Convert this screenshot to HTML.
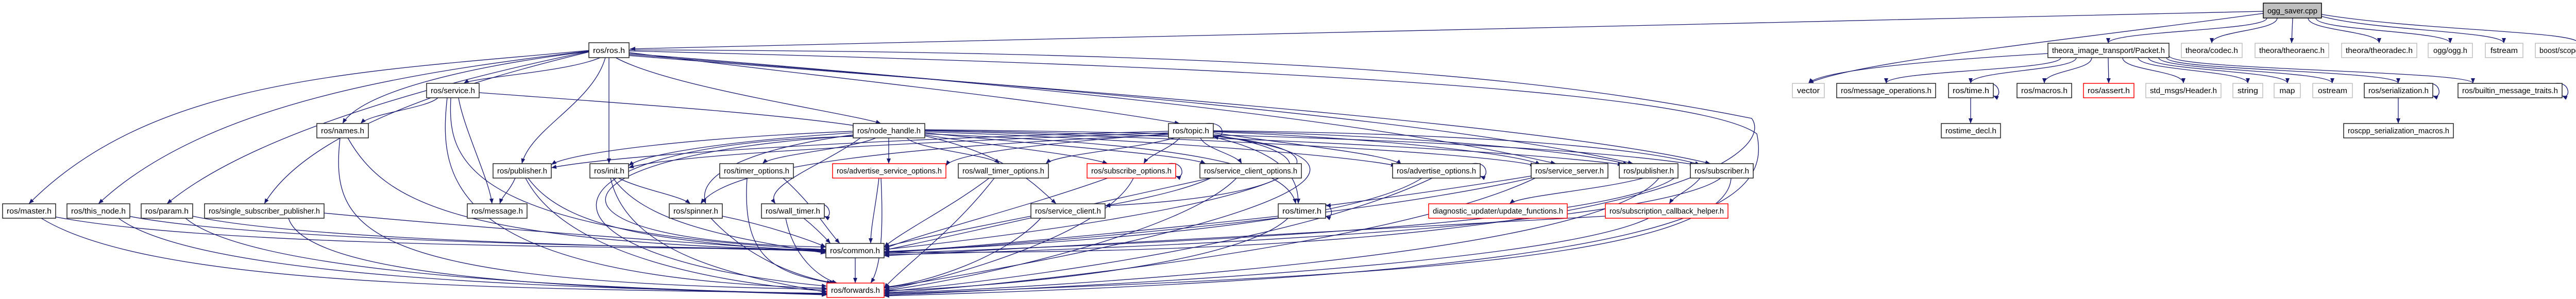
<!DOCTYPE html>
<html><head><meta charset="utf-8"><style>
html,body{margin:0;padding:0;background:#fff;width:5092px;height:581px;overflow:hidden}
svg{display:block}
text{font-family:"Liberation Sans",sans-serif;font-size:15px;fill:#000}
.e{fill:none;stroke:#191970;stroke-width:1.3;marker-end:url(#a)}
.n{fill:#fff;stroke:#222;stroke-width:1.5}
.r{fill:#fff;stroke:#ff0000;stroke-width:1.5}
.g{fill:#fff;stroke:#bfbfbf;stroke-width:1.5}
</style></head><body>
<svg width="5092" height="581" viewBox="0 0 5092 581" xmlns="http://www.w3.org/2000/svg">
<defs><marker id="a" markerUnits="userSpaceOnUse" markerWidth="10" markerHeight="8" refX="10" refY="4" orient="auto"><path d="M0,0 L10,4 L0,8 z" fill="#191970"/></marker></defs>
<g>
<!-- ogg_saver edges -->
<path class="e" d="M4400 35 C4400 60,4092 60,4092 84"/>
<path class="e" d="M4420 35 C4420 60,4293 60,4293 84"/>
<path class="e" d="M4450 35 L4448 84"/>
<path class="e" d="M4480 35 C4480 60,4618 60,4618 84"/>
<path class="e" d="M4495 35 C4495 60,4756 60,4756 84"/>
<path class="e" d="M4500 30 C4600 60,4860 60,4860 84"/>
<path class="e" d="M4506 28 C4700 60,5005 60,5005 84"/>
<path class="e" d="M4393 26 C4000 80,3600 120,3510 162"/>
<path class="e" d="M4393 22 C3500 40,2300 70,1223 95"/>
<!-- Packet edges -->
<path class="e" d="M3975 104 C3700 120,3530 140,3510 162"/>
<path class="e" d="M4000 112 C4000 137,3661 137,3661 162"/>
<path class="e" d="M4030 112 C4030 137,3825 137,3825 162"/>
<path class="e" d="M4060 112 C4060 137,3968 137,3968 162"/>
<path class="e" d="M4092 112 L4093 162"/>
<path class="e" d="M4120 112 C4120 137,4238 137,4238 162"/>
<path class="e" d="M4150 112 C4150 137,4363 137,4363 162"/>
<path class="e" d="M4170 112 C4170 137,4440 137,4440 162"/>
<path class="e" d="M4190 112 C4190 137,4527 137,4527 162"/>
<path class="e" d="M4205 112 C4205 137,4655 137,4655 162"/>
<path class="e" d="M4210 108 C4210 137,4800 137,4800 162"/>
<path class="e" d="M3825 190 L3825 240"/>
<path class="e" d="M4655 190 L4655 240"/>
<path class="e" d="M3855 162 C3885 158,3885 194,3869 186"/>
<path class="e" d="M4710 162 C4740 158,4740 194,4722 186"/>
<path class="e" d="M4960 162 C4990 158,4990 194,4973 186"/>
<!-- ros.h edges -->
<path class="e" d="M1165 112 C1100 140,920 150,900 162"/>
<path class="e" d="M1143 100 C900 130,700 180,665 240"/>
<path class="e" d="M1143 98 C700 140,300 150,56 396"/>
<path class="e" d="M1143 99 C800 140,400 200,191 396"/>
<path class="e" d="M1143 100 C900 150,500 250,324 396"/>
<path class="e" d="M1143 101 C900 160,600 250,513 396"/>
<path class="e" d="M1175 112 C1150 200,1030 250,1013 318"/>
<path class="e" d="M1182 112 L1182 318"/>
<path class="e" d="M1195 112 C1300 170,1650 220,1710 240"/>
<path class="e" d="M1221 102 C1600 150,2000 190,2290 240"/>
<path class="e" d="M1221 104 C1800 150,2600 220,3020 318"/>
<path class="e" d="M1221 106 C1900 160,2800 230,3170 318"/>
<path class="e" d="M1221 108 C2000 170,3000 240,3320 318"/>
<path class="e" d="M1221 97 C2500 100,3000 150,3400 230 C3450 300,3200 500,1716 490"/>
<path class="e" d="M1221 99 C2500 130,3300 180,3410 260 C3440 400,3300 530,1716 575"/>
<!-- service.h -->
<path class="e" d="M850 190 C830 210,720 220,700 240"/>
<path class="e" d="M930 180 C1200 200,1500 220,1665 245"/>
<path class="e" d="M890 190 C900 250,950 350,955 396"/>
<path class="e" d="M875 190 C870 300,880 450,1603 485"/>
<path class="e" d="M868 190 C850 350,870 540,1605 560"/>
<!-- names -->
<path class="e" d="M675 268 C750 400,900 470,1603 487"/>
<path class="e" d="M660 268 C640 450,700 550,1605 562"/>
<!-- node_handle -->
<path class="e" d="M1656 255 C1300 270,1100 300,1070 320"/>
<path class="e" d="M1656 258 C1400 275,1250 300,1220 322"/>
<path class="e" d="M1700 268 C1650 290,1500 300,1480 318"/>
<path class="e" d="M1725 268 L1725 318"/>
<path class="e" d="M1760 268 C1780 290,1920 300,1940 318"/>
<path class="e" d="M1795 262 C1900 280,2100 300,2150 318"/>
<path class="e" d="M1795 258 C2000 280,2300 300,2340 318"/>
<path class="e" d="M1795 256 C2200 270,2600 300,2710 322"/>
<path class="e" d="M1795 254 C2400 270,2900 300,2980 322"/>
<path class="e" d="M1795 253 C2500 265,3000 300,3150 320"/>
<path class="e" d="M1795 252 C2600 260,3100 290,3290 320"/>
<path class="e" d="M1656 262 C1450 290,1350 340,1370 396"/>
<path class="e" d="M1670 268 C1600 320,1480 360,1505 396"/>
<path class="e" d="M1795 264 C1950 300,2000 350,2050 396"/>
<path class="e" d="M1795 260 C2300 280,2500 320,2515 396"/>
<path class="e" d="M1656 264 C1050 300,1000 470,1603 480"/>
<path class="e" d="M1656 265 C1000 280,1000 500,1605 556"/>
<!-- topic -->
<path class="e" d="M2268 255 C1700 270,1200 300,1070 326"/>
<path class="e" d="M2268 258 C1800 275,1300 300,1220 326"/>
<path class="e" d="M2268 260 C2000 280,1850 300,1836 322"/>
<path class="e" d="M2280 268 C2200 290,2050 300,2030 318"/>
<path class="e" d="M2290 268 C2270 290,2230 300,2220 318"/>
<path class="e" d="M2330 268 C2340 290,2400 300,2410 318"/>
<path class="e" d="M2355 258 C2500 280,2700 300,2720 320"/>
<path class="e" d="M2355 256 C2700 270,2950 300,2990 320"/>
<path class="e" d="M2355 255 C2800 265,3100 300,3160 320"/>
<path class="e" d="M2355 254 C2900 260,3200 290,3300 320"/>
<path class="e" d="M2355 266 C2500 300,2520 350,2520 396"/>
<path class="e" d="M2268 262 C1600 290,1400 340,1360 396"/>
<path class="e" d="M2355 262 C2600 300,2550 380,2145 400"/>
<path class="e" d="M2340 240 C2380 235,2380 272,2355 265"/>
<path class="e" d="M2355 264 C2700 300,2500 400,1716 485"/>
<path class="e" d="M2355 264 C2800 320,2400 450,1716 560"/>
<!-- row 318 -->
<path class="e" d="M1000 346 C990 370,975 380,970 396"/>
<path class="e" d="M1025 346 C1100 450,1300 470,1603 490"/>
<path class="e" d="M1020 346 C1100 500,1400 550,1605 566"/>
<path class="e" d="M1200 346 C1250 370,1320 380,1340 396"/>
<path class="e" d="M1190 346 C1250 430,1400 460,1603 492"/>
<path class="e" d="M1185 346 C1220 500,1450 540,1605 568"/>
<path class="e" d="M1520 346 C1580 400,1600 440,1630 473"/>
<path class="e" d="M1450 346 C1440 500,1500 530,1615 550"/>
<path class="e" d="M1706 346 C1700 400,1690 440,1690 473"/>
<path class="e" d="M1710 346 C1715 450,1710 520,1690 550"/>
<path class="e" d="M1920 346 C1850 400,1750 450,1716 480"/>
<path class="e" d="M1930 346 C1850 450,1750 520,1716 560"/>
<path class="e" d="M2150 346 C2000 400,1800 450,1716 483"/>
<path class="e" d="M2200 346 C2150 450,1850 540,1716 563"/>
<path class="e" d="M2268 318 C2300 312,2300 350,2282 342"/>
<path class="e" d="M2350 346 C2100 400,1800 470,1716 486"/>
<path class="e" d="M2400 346 C2300 450,1900 540,1716 565"/>
<path class="e" d="M2350 346 C2300 370,2200 390,2145 400"/>
<path class="e" d="M2760 346 C2600 450,1900 480,1716 489"/>
<path class="e" d="M2780 346 C2500 480,1900 550,1716 567"/>
<path class="e" d="M2858 318 C2890 312,2890 350,2873 342"/>
<path class="e" d="M2972 342 C2800 370,2650 390,2573 400"/>
<path class="e" d="M2972 346 C2600 430,1900 480,1716 491"/>
<path class="e" d="M2980 346 C2700 480,1900 560,1716 569"/>
<path class="e" d="M3190 346 C3100 370,2950 380,2930 396"/>
<path class="e" d="M3250 346 C3100 450,2000 480,1716 493"/>
<path class="e" d="M3220 346 C3100 500,2000 560,1716 570"/>
<path class="e" d="M3300 346 C3280 370,3250 380,3240 396"/>
<path class="e" d="M3340 346 C3200 450,2000 490,1716 495"/>
<path class="e" d="M3360 346 C3350 520,2500 540,1716 572"/>
<!-- row 396 -->
<path class="e" d="M3116 420 C2800 440,2000 480,1716 497"/>
<path class="e" d="M3200 424 C3000 520,2000 560,1716 574"/>
<path class="e" d="M2481 420 C2300 440,1900 480,1716 490"/>
<path class="e" d="M2500 424 C2400 520,1900 560,1716 565"/>
<path class="e" d="M2560 396 C2590 392,2590 428,2573 420"/>
<path class="e" d="M2001 420 C1900 440,1750 470,1716 480"/>
<path class="e" d="M2020 424 C1950 500,1800 550,1716 558"/>
<path class="e" d="M1402 420 C1500 440,1580 470,1603 480"/>
<path class="e" d="M1380 424 C1450 500,1550 540,1620 550"/>
<path class="e" d="M1560 424 C1580 440,1600 460,1612 473"/>
<path class="e" d="M1525 424 C1540 500,1590 540,1625 550"/>
<path class="e" d="M1585 396 C1615 392,1615 428,1600 420"/>
<path class="e" d="M100 420 C400 480,1200 480,1603 485"/>
<path class="e" d="M80 424 C300 560,1000 560,1605 570"/>
<path class="e" d="M250 420 C500 470,1300 480,1603 486"/>
<path class="e" d="M230 424 C400 550,1200 560,1605 571"/>
<path class="e" d="M374 420 C600 470,1300 480,1603 488"/>
<path class="e" d="M360 424 C500 540,1200 560,1605 572"/>
<path class="e" d="M629 414 C900 440,1300 470,1603 489"/>
<path class="e" d="M560 424 C600 550,1200 560,1605 573"/>
<path class="e" d="M1660 501 L1660 550"/>
</g>
<g>
<rect x="4393" y="6" width="113" height="29" fill="#bfbfbf" stroke="#000" stroke-width="1.5"/><text x="4449.5" y="26" text-anchor="middle" textLength="97" lengthAdjust="spacingAndGlyphs">ogg_saver.cpp</text>
<rect class="n" x="1143" y="83" width="78" height="29"/><text x="1182" y="103" text-anchor="middle" textLength="62" lengthAdjust="spacingAndGlyphs">ros/ros.h</text>
<rect class="n" x="3975" y="84" width="235" height="28"/><text x="4092.5" y="103" text-anchor="middle" textLength="219" lengthAdjust="spacingAndGlyphs">theora_image_transport/Packet.h</text>
<rect class="g" x="4234" y="84" width="118" height="28"/><text x="4293" y="103" text-anchor="middle" textLength="102" lengthAdjust="spacingAndGlyphs">theora/codec.h</text>
<rect class="g" x="4377" y="84" width="143" height="28"/><text x="4448.5" y="103" text-anchor="middle" textLength="127" lengthAdjust="spacingAndGlyphs">theora/theoraenc.h</text>
<rect class="g" x="4545" y="84" width="146" height="28"/><text x="4618" y="103" text-anchor="middle" textLength="130" lengthAdjust="spacingAndGlyphs">theora/theoradec.h</text>
<rect class="g" x="4713" y="84" width="86" height="28"/><text x="4756" y="103" text-anchor="middle" textLength="66" lengthAdjust="spacingAndGlyphs">ogg/ogg.h</text>
<rect class="g" x="4824" y="84" width="73" height="28"/><text x="4860.5" y="103" text-anchor="middle" textLength="53" lengthAdjust="spacingAndGlyphs">fstream</text>
<rect class="g" x="4921" y="84" width="169" height="28"/><text x="5005.5" y="103" text-anchor="middle" textLength="153" lengthAdjust="spacingAndGlyphs">boost/scoped_array.hpp</text>
<rect class="n" x="828" y="162" width="102" height="28"/><text x="879" y="181" text-anchor="middle" textLength="86" lengthAdjust="spacingAndGlyphs">ros/service.h</text>
<rect class="g" x="3479" y="162" width="62" height="28"/><text x="3510" y="181" text-anchor="middle" textLength="44" lengthAdjust="spacingAndGlyphs">vector</text>
<rect class="n" x="3565" y="162" width="192" height="28"/><text x="3661" y="181" text-anchor="middle" textLength="176" lengthAdjust="spacingAndGlyphs">ros/message_operations.h</text>
<rect class="n" x="3782" y="162" width="87" height="28"/><text x="3825.5" y="181" text-anchor="middle" textLength="71" lengthAdjust="spacingAndGlyphs">ros/time.h</text>
<rect class="n" x="3915" y="162" width="106" height="28"/><text x="3968" y="181" text-anchor="middle" textLength="90" lengthAdjust="spacingAndGlyphs">ros/macros.h</text>
<rect class="r" x="4044" y="162" width="98" height="28"/><text x="4093" y="181" text-anchor="middle" textLength="82" lengthAdjust="spacingAndGlyphs">ros/assert.h</text>
<rect class="g" x="4165" y="162" width="146" height="28"/><text x="4238" y="181" text-anchor="middle" textLength="130" lengthAdjust="spacingAndGlyphs">std_msgs/Header.h</text>
<rect class="g" x="4334" y="162" width="58" height="28"/><text x="4363" y="181" text-anchor="middle" textLength="40" lengthAdjust="spacingAndGlyphs">string</text>
<rect class="g" x="4414" y="162" width="51" height="28"/><text x="4439.5" y="181" text-anchor="middle" textLength="30" lengthAdjust="spacingAndGlyphs">map</text>
<rect class="g" x="4489" y="162" width="77" height="28"/><text x="4527.5" y="181" text-anchor="middle" textLength="57" lengthAdjust="spacingAndGlyphs">ostream</text>
<rect class="n" x="4589" y="162" width="133" height="28"/><text x="4655.5" y="181" text-anchor="middle" textLength="117" lengthAdjust="spacingAndGlyphs">ros/serialization.h</text>
<rect class="n" x="4771" y="162" width="202" height="28"/><text x="4872" y="181" text-anchor="middle" textLength="186" lengthAdjust="spacingAndGlyphs">ros/builtin_message_traits.h</text>
<rect class="n" x="615" y="240" width="100" height="28"/><text x="665" y="259" text-anchor="middle" textLength="84" lengthAdjust="spacingAndGlyphs">ros/names.h</text>
<rect class="n" x="1656" y="240" width="139" height="28"/><text x="1725.5" y="259" text-anchor="middle" textLength="123" lengthAdjust="spacingAndGlyphs">ros/node_handle.h</text>
<rect class="n" x="2268" y="240" width="87" height="28"/><text x="2311.5" y="259" text-anchor="middle" textLength="71" lengthAdjust="spacingAndGlyphs">ros/topic.h</text>
<rect class="n" x="3768" y="240" width="115" height="28"/><text x="3825.5" y="259" text-anchor="middle" textLength="99" lengthAdjust="spacingAndGlyphs">rostime_decl.h</text>
<rect class="n" x="4549" y="240" width="213" height="28"/><text x="4655.5" y="259" text-anchor="middle" textLength="197" lengthAdjust="spacingAndGlyphs">roscpp_serialization_macros.h</text>
<rect class="n" x="957" y="318" width="113" height="28"/><text x="1013.5" y="337" text-anchor="middle" textLength="97" lengthAdjust="spacingAndGlyphs">ros/publisher.h</text>
<rect class="n" x="1145" y="318" width="75" height="28"/><text x="1182.5" y="337" text-anchor="middle" textLength="59" lengthAdjust="spacingAndGlyphs">ros/init.h</text>
<rect class="n" x="1397" y="318" width="143" height="28"/><text x="1468.5" y="337" text-anchor="middle" textLength="127" lengthAdjust="spacingAndGlyphs">ros/timer_options.h</text>
<rect class="r" x="1616" y="318" width="220" height="28"/><text x="1726" y="337" text-anchor="middle" textLength="204" lengthAdjust="spacingAndGlyphs">ros/advertise_service_options.h</text>
<rect class="n" x="1860" y="318" width="175" height="28"/><text x="1947.5" y="337" text-anchor="middle" textLength="159" lengthAdjust="spacingAndGlyphs">ros/wall_timer_options.h</text>
<rect class="r" x="2110" y="318" width="172" height="28"/><text x="2196" y="337" text-anchor="middle" textLength="156" lengthAdjust="spacingAndGlyphs">ros/subscribe_options.h</text>
<rect class="n" x="2329" y="318" width="197" height="28"/><text x="2427.5" y="337" text-anchor="middle" textLength="181" lengthAdjust="spacingAndGlyphs">ros/service_client_options.h</text>
<rect class="n" x="2703" y="318" width="170" height="28"/><text x="2788" y="337" text-anchor="middle" textLength="154" lengthAdjust="spacingAndGlyphs">ros/advertise_options.h</text>
<rect class="n" x="2972" y="318" width="149" height="28"/><text x="3046.5" y="337" text-anchor="middle" textLength="133" lengthAdjust="spacingAndGlyphs">ros/service_server.h</text>
<rect class="n" x="3143" y="318" width="114" height="28"/><text x="3200" y="337" text-anchor="middle" textLength="98" lengthAdjust="spacingAndGlyphs">ros/publisher.h</text>
<rect class="n" x="3281" y="318" width="122" height="28"/><text x="3342" y="337" text-anchor="middle" textLength="106" lengthAdjust="spacingAndGlyphs">ros/subscriber.h</text>
<rect class="n" x="5" y="396" width="103" height="28"/><text x="56.5" y="415" text-anchor="middle" textLength="87" lengthAdjust="spacingAndGlyphs">ros/master.h</text>
<rect class="n" x="130" y="396" width="122" height="28"/><text x="191" y="415" text-anchor="middle" textLength="106" lengthAdjust="spacingAndGlyphs">ros/this_node.h</text>
<rect class="n" x="274" y="396" width="100" height="28"/><text x="324" y="415" text-anchor="middle" textLength="84" lengthAdjust="spacingAndGlyphs">ros/param.h</text>
<rect class="n" x="397" y="396" width="232" height="28"/><text x="513" y="415" text-anchor="middle" textLength="216" lengthAdjust="spacingAndGlyphs">ros/single_subscriber_publisher.h</text>
<rect class="n" x="907" y="396" width="116" height="28"/><text x="965" y="415" text-anchor="middle" textLength="100" lengthAdjust="spacingAndGlyphs">ros/message.h</text>
<rect class="n" x="1299" y="396" width="103" height="28"/><text x="1350.5" y="415" text-anchor="middle" textLength="87" lengthAdjust="spacingAndGlyphs">ros/spinner.h</text>
<rect class="n" x="1478" y="396" width="122" height="28"/><text x="1539" y="415" text-anchor="middle" textLength="106" lengthAdjust="spacingAndGlyphs">ros/wall_timer.h</text>
<rect class="n" x="2001" y="396" width="144" height="28"/><text x="2073" y="415" text-anchor="middle" textLength="128" lengthAdjust="spacingAndGlyphs">ros/service_client.h</text>
<rect class="n" x="2481" y="396" width="92" height="28"/><text x="2527" y="415" text-anchor="middle" textLength="76" lengthAdjust="spacingAndGlyphs">ros/timer.h</text>
<rect class="r" x="2773" y="396" width="269" height="28"/><text x="2907.5" y="415" text-anchor="middle" textLength="253" lengthAdjust="spacingAndGlyphs">diagnostic_updater/update_functions.h</text>
<rect class="r" x="3116" y="396" width="238" height="28"/><text x="3235" y="415" text-anchor="middle" textLength="222" lengthAdjust="spacingAndGlyphs">ros/subscription_callback_helper.h</text>
<rect class="n" x="1603" y="473" width="113" height="28"/><text x="1659.5" y="492" text-anchor="middle" textLength="97" lengthAdjust="spacingAndGlyphs">ros/common.h</text>
<rect class="r" x="1605" y="550" width="111" height="28"/><text x="1660.5" y="569" text-anchor="middle" textLength="95" lengthAdjust="spacingAndGlyphs">ros/forwards.h</text>
</g>
</svg>
</body></html>
